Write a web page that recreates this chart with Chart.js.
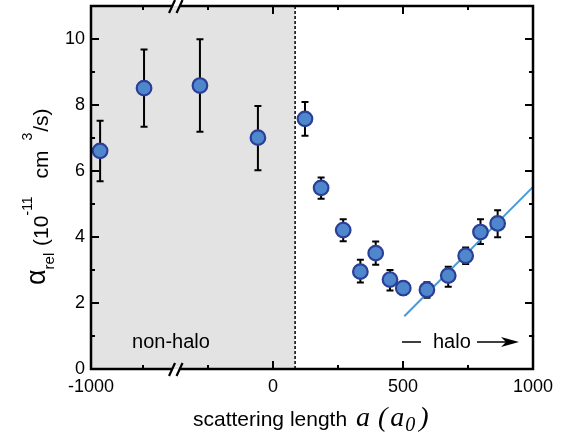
<!DOCTYPE html>
<html><head><meta charset="utf-8">
<script src="https://cdn.jsdelivr.net/npm/chart.js@4.4.0/dist/chart.umd.min.js"></script>
<style>html,body{margin:0;padding:0;background:#fff;}#wrap{width:568px;height:441px;position:relative;}</style>
</head><body><div id="wrap"><canvas id="c" width="568" height="441"></canvas></div>
<script>
// x positions are in display-axis units: right of the axis break they equal a (a0);
// the left (broken) segment is compressed, its end labelled -1000.
const xPos = [-665, -496, -281, -58, 123, 185, 270, 336, 395, 450, 501, 592, 674, 741, 798, 864];
const alphaRel = [6.61, 8.51, 8.59, 7.01, 7.58, 5.49, 4.21, 2.95, 3.51, 2.71, 2.45, 2.40, 2.83, 3.43, 4.15, 4.41];
const errHigh = [7.52, 9.68, 9.99, 7.97, 8.09, 5.80, 4.54, 3.31, 3.86, 3.00, 2.64, 2.63, 3.10, 3.68, 4.54, 4.81];
const errLow  = [5.69, 7.34, 7.19, 6.02, 7.07, 5.16, 3.87, 2.62, 3.16, 2.38, 2.25, 2.16, 2.49, 3.18, 3.79, 3.99];
const fitX = [505, 1000];
const fitY = [1.6, 5.52];
const xTickValues = [-700, 0, 500, 1000];
const xTickLabels = ['-1000', '0', '500', '1000'];
const xMinorTicks = [-500, -250, 250, 750];
const yTickValues = [0, 2, 4, 6, 8, 10];
const yAllTicks = [1, 2, 3, 4, 5, 6, 7, 8, 9, 10];
const nonHaloEnd = 85;
const axisBreak = -373;

const SANS = '"Liberation Sans", Arial, Helvetica, sans-serif';
const SERIF = '"Liberation Serif", "Times New Roman", serif';

function drawRich(ctx, segs, x0, y0) {
  let x = x0;
  for (const s of segs) {
    ctx.font = s.f;
    x += (s.dx || 0);
    ctx.fillText(s.t, x, y0 + (s.dy || 0));
    x += ctx.measureText(s.t).width;
  }
  return x;
}

const plug = {
  id: 'custom',
  beforeDatasetsDraw(chart) {
    const {ctx, chartArea: a, scales: {x, y}} = chart;
    ctx.save();
    const xe = x.getPixelForValue(nonHaloEnd);
    ctx.fillStyle = '#e3e3e3';
    ctx.fillRect(a.left, a.top, xe - a.left, a.bottom - a.top);
    ctx.strokeStyle = '#000';
    ctx.lineWidth = 1.5;
    ctx.setLineDash([3, 2]);
    ctx.beginPath(); ctx.moveTo(xe, a.top); ctx.lineTo(xe, a.bottom); ctx.stroke();
    ctx.setLineDash([]);
    ctx.lineWidth = 2;
    for (let i = 0; i < xPos.length; i++) {
      const px = x.getPixelForValue(xPos[i]);
      const yt = y.getPixelForValue(errHigh[i]);
      const yb = y.getPixelForValue(errLow[i]);
      ctx.beginPath();
      ctx.moveTo(px, yt); ctx.lineTo(px, yb);
      ctx.moveTo(px - 3.5, yt); ctx.lineTo(px + 3.5, yt);
      ctx.moveTo(px - 3.5, yb); ctx.lineTo(px + 3.5, yb);
      ctx.stroke();
    }
    ctx.restore();
  },
  afterDraw(chart) {
    const {ctx, chartArea: a, scales: {x, y}} = chart;
    ctx.save();
    ctx.strokeStyle = '#000';
    ctx.fillStyle = '#000';
    // ticks
    ctx.lineWidth = 2;
    ctx.beginPath();
    for (const v of yAllTicks) {
      const py = y.getPixelForValue(v);
      const len = v % 2 === 0 ? 8 : 4;
      ctx.moveTo(a.left, py); ctx.lineTo(a.left + len, py);
      ctx.moveTo(a.right, py); ctx.lineTo(a.right - len, py);
    }
    for (const v of xTickValues.concat(xMinorTicks)) {
      const px = x.getPixelForValue(v);
      const len = xMinorTicks.includes(v) ? 4 : 8;
      ctx.moveTo(px, a.bottom); ctx.lineTo(px, a.bottom - len);
      ctx.moveTo(px, a.top); ctx.lineTo(px, a.top + len);
    }
    ctx.stroke();
    // frame
    ctx.lineWidth = 2.5;
    ctx.strokeRect(a.left, a.top, a.right - a.left, a.bottom - a.top);
    // axis break marks
    const bx = x.getPixelForValue(axisBreak);
    for (const yc of [a.top, a.bottom]) {
      ctx.fillStyle = '#ffffff';
      ctx.beginPath();
      ctx.moveTo(bx - 4, yc + 3); ctx.lineTo(bx + 3, yc + 3);
      ctx.lineTo(bx + 5, yc - 3); ctx.lineTo(bx - 2, yc - 3);
      ctx.closePath(); ctx.fill();
      ctx.fillStyle = '#e3e3e3';
      const inside = yc === a.top ? 1 : -1;
      ctx.beginPath();
      ctx.moveTo(bx - 3, yc); ctx.lineTo(bx + 4, yc);
      ctx.lineTo(bx + 4 + inside * -0.8, yc + inside * 2.5); ctx.lineTo(bx - 3 + inside * -0.8, yc + inside * 2.5);
      ctx.closePath(); ctx.fill();
      ctx.lineWidth = 2.2;
      ctx.beginPath();
      for (const d of [-4, 3.5]) {
        ctx.moveTo(bx + d - 3, yc + 7); ctx.lineTo(bx + d + 3, yc - 6);
      }
      ctx.stroke();
    }
    ctx.fillStyle = '#000';
    // annotations
    ctx.font = '20px ' + SANS;
    ctx.textAlign = 'center';
    ctx.textBaseline = 'alphabetic';
    ctx.fillText('non-halo', 171, 348);
    ctx.textAlign = 'left';
    ctx.fillText('halo', 433, 348);
    ctx.lineWidth = 1.6;
    ctx.beginPath();
    ctx.moveTo(402, 342); ctx.lineTo(421, 342);
    ctx.moveTo(477, 342); ctx.lineTo(510, 342);
    ctx.stroke();
    ctx.beginPath();
    ctx.moveTo(519, 342); ctx.lineTo(501, 337); ctx.lineTo(506, 342); ctx.lineTo(501, 347);
    ctx.closePath(); ctx.fill();
    // x axis title
    const xt = [
      {t: 'scattering length ', f: '21px ' + SANS},
      {t: 'a', f: 'italic 28px ' + SERIF, dx: 3},
      {t: ' (', f: 'italic 28px ' + SERIF, dx: 1},
      {t: 'a', f: 'italic 28px ' + SERIF, dx: 3},
      {t: '0', f: 'italic 20px ' + SERIF, dy: 5, dx: 1},
      {t: ')', f: 'italic 28px ' + SERIF, dx: 4}
    ];
    drawRich(ctx, xt, 193, 426);
    // y axis title (rotated)
    ctx.save();
    ctx.translate(45, 285);
    ctx.rotate(-Math.PI / 2);
    const yt = [
      {t: 'α', f: '27px ' + SANS},
      {t: 'rel', f: '15px ' + SANS, dy: 9},
      {t: ' (10', f: '21px ' + SANS, dy: 3, dx: 1},
      {t: '-11', f: '14px ' + SANS, dy: -13},
      {t: ' cm', f: '21px ' + SANS, dy: 3, dx: 12},
      {t: '3', f: '14px ' + SANS, dy: -13, dx: 10},
      {t: '/s)', f: '21px ' + SANS, dy: 3, dx: 1}
    ];
    drawRich(ctx, yt, 0, 0);
    ctx.restore();
    ctx.restore();
  }
};

new Chart(document.getElementById('c').getContext('2d'), {
  type: 'scatter',
  data: {
    datasets: [
      {
        data: xPos.map((v, i) => ({x: v, y: alphaRel[i]})),
        pointRadius: 7.3,
        pointBorderWidth: 2.2,
        pointBackgroundColor: '#4f87cc',
        pointBorderColor: '#2b3f98',
        order: 1
      },
      {
        type: 'line',
        data: fitX.map((v, i) => ({x: v, y: fitY[i]})),
        borderColor: '#4a9ad9',
        borderWidth: 2,
        pointRadius: 0,
        fill: false,
        order: 2
      }
    ]
  },
  options: {
    responsive: false,
    animation: false,
    devicePixelRatio: 1,
    layout: {autoPadding: false, padding: {top: 6, right: 35, left: 0, bottom: 0}},
    plugins: {legend: {display: false}, tooltip: {enabled: false}},
    scales: {
      x: {
        type: 'linear', min: -700, max: 1000,
        grid: {display: false, drawTicks: false},
        border: {display: false},
        afterBuildTicks: s => { s.ticks = xTickValues.map(v => ({value: v})); },
        afterFit: s => { s.height = 72; s.paddingLeft = 0; s.paddingRight = 0; },
        ticks: {
          padding: 7, color: '#000', maxRotation: 0, autoSkip: false,
          font: {family: SANS, size: 18},
          callback: v => { const i = xTickValues.indexOf(v); return i >= 0 ? xTickLabels[i] : ''; }
        }
      },
      y: {
        type: 'linear', min: 0, max: 11,
        grid: {display: false, drawTicks: false},
        border: {display: false},
        afterBuildTicks: s => { s.ticks = yTickValues.map(v => ({value: v})); },
        afterFit: s => { s.width = 91; s.paddingTop = 0; s.paddingBottom = 0; },
        ticks: {padding: 6, color: '#000', font: {family: SANS, size: 18}}
      }
    }
  },
  plugins: [plug]
});
</script>
</body></html>
